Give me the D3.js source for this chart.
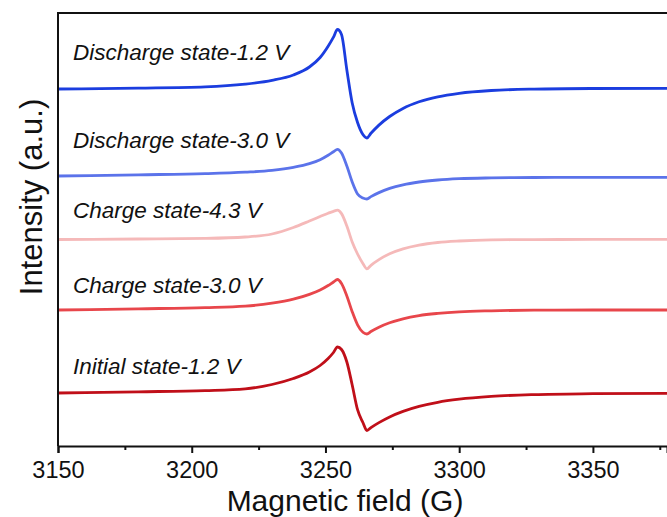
<!DOCTYPE html>
<html>
<head>
<meta charset="utf-8">
<script src="https://cdn.jsdelivr.net/npm/d3@7"></script>
<style>
  body { margin: 0; background: #fff; }
  text { font-family: "Liberation Sans", Arial, sans-serif; }
</style>
</head>
<body>
<div class="chart"></div>
<script>
// magnetic field (G) sampled points
var field = [3150, 3180, 3205, 3220, 3230, 3238, 3244, 3248, 3251, 3253, 3254.5, 3256,
  3258, 3260, 3262, 3264, 3265.5, 3267, 3270, 3274, 3279, 3285, 3292, 3300, 3312,
  3328, 3350, 3378];

// intensity (a.u., stacked with offsets as in the figure)
var discharge12 = [357, 357.9, 359.1, 361.8, 365.6, 371, 379, 388.5, 399.8, 408.8, 416.5, 411.5,
  376, 343, 323.5, 311.5, 308, 312.7, 320.9, 329.5, 337.6, 344.2, 349.2, 352.7, 355.5,
  356.9, 357.5, 357.7];
var discharge30 = [270, 271.2, 272.3, 273.8, 275.6, 278.6, 282.3, 286.3, 290.8, 294.2, 296.7, 293,
  280, 264, 252, 248, 247, 249.4, 253.4, 257.6, 261.2, 264, 266, 267.3, 268.1,
  268.5, 268.7, 268.7];
var charge43 = [206.5, 207, 207.6, 209, 212, 218.5, 225, 229.5, 232.8, 234.7, 235.8, 232.4,
  220, 204, 192, 182.5, 177.2, 180.7, 186.4, 192.2, 197.1, 200.9, 203.5, 205, 206.1,
  206.4, 206.6, 206.7];
var charge30 = [136, 137.2, 138.3, 139.8, 142.8, 146.8, 151.6, 156, 160.5, 164, 166.5, 162.5,
  150, 134.3, 121.2, 113.7, 112, 114.5, 118.8, 123.2, 127.2, 130.4, 132.6, 134.2, 135.2,
  135.8, 136, 136];
var initial12 = [53, 54.2, 55.4, 57.2, 61.5, 67.5, 74, 80.5, 87.5, 93.5, 99, 96.5,
  84, 61, 36.3, 23.5, 15.5, 18.4, 23.4, 29.1, 34.6, 39.6, 43.7, 46.8, 49.6,
  51.4, 52.3, 52.7];

var seriesNames = ["Discharge state-1.2 V", "Discharge state-3.0 V", "Charge state-4.3 V",
  "Charge state-3.0 V", "Initial state-1.2 V"];
var seriesValues = [discharge12, discharge30, charge43, charge30, initial12];
var labelLevel = [386, 298, 228, 153, 72];

var majorTicks = [3150, 3200, 3250, 3300, 3350];
var minorTicks = [3175, 3225, 3275, 3325, 3375];

var colors = ["#1b3ddf", "#5b73ea", "#f5b9b9", "#e8464b", "#c00f19"];

var svgWidth = 667;
var svgHeight = 517;
var margin = { top: 13, right: 0, bottom: 71, left: 58 };
var width = svgWidth - margin.left - margin.right;
var height = svgHeight - margin.top - margin.bottom;

var svg = d3.select(".chart")
  .append("svg")
  .attr("width", svgWidth)
  .attr("height", svgHeight);

var chartGroup = svg.append("g")
  .attr("transform", `translate(${margin.left}, ${margin.top})`);

var xScale = d3.scaleLinear()
  .domain([3150, 3377.7])
  .range([0, width]);

var yScale = d3.scaleLinear()
  .domain([0, 433])
  .range([height, 0]);

svg.append("defs").append("clipPath")
  .attr("id", "plot-clip")
  .append("rect")
  .attr("width", width)
  .attr("height", height);

var line = d3.line()
  .x(d => xScale(d[0]))
  .y(d => yScale(d[1]))
  .curve(d3.curveMonotoneX);

var curves = chartGroup.append("g").attr("clip-path", "url(#plot-clip)");

seriesValues.forEach(function(vals, i) {
  var pts = field.map((f, j) => [f, vals[j]]);
  curves.append("path")
    .datum(pts)
    .attr("fill", "none")
    .attr("stroke", colors[i])
    .attr("stroke-width", 2.8)
    .attr("stroke-linejoin", "round")
    .attr("d", line);
});

// series labels
chartGroup.selectAll(".series-label")
  .data(seriesNames)
  .enter()
  .append("text")
  .attr("class", "series-label")
  .attr("x", 15)
  .attr("y", (d, i) => yScale(labelLevel[i]))
  .attr("font-size", 22.5)
  .attr("font-style", "italic")
  .attr("fill", "#111")
  .text(d => d);

// frame: top and left edges
chartGroup.append("path")
  .attr("d", `M${width + 2},0H0V${height}`)
  .attr("fill", "none")
  .attr("stroke", "#111")
  .attr("stroke-width", 2);

// bottom axis, minor ticks first
chartGroup.append("g")
  .attr("transform", `translate(0, ${height})`)
  .call(d3.axisBottom(xScale).tickValues(minorTicks).tickSize(4).tickFormat(""))
  .call(g => g.select(".domain").remove())
  .selectAll("line").attr("stroke", "#111").attr("stroke-width", 2);

var xAxis = chartGroup.append("g")
  .attr("transform", `translate(0, ${height})`)
  .call(d3.axisBottom(xScale).tickValues(majorTicks).tickSize(7).tickPadding(8)
    .tickFormat(d3.format("d")));

xAxis.select(".domain").attr("stroke", "#111").attr("stroke-width", 2);
xAxis.selectAll("line").attr("stroke", "#111").attr("stroke-width", 2);
xAxis.selectAll("text")
  .attr("font-size", 23.5)
  .attr("fill", "#111");

// axis titles
svg.append("text")
  .attr("x", 345)
  .attr("y", 511)
  .attr("text-anchor", "middle")
  .attr("font-size", 30)
  .attr("fill", "#111")
  .text("Magnetic field (G)");

svg.append("text")
  .attr("transform", "translate(42, 197) rotate(-90)")
  .attr("text-anchor", "middle")
  .attr("font-size", 31)
  .attr("fill", "#111")
  .text("Intensity (a.u.)");
</script>
</body>
</html>
